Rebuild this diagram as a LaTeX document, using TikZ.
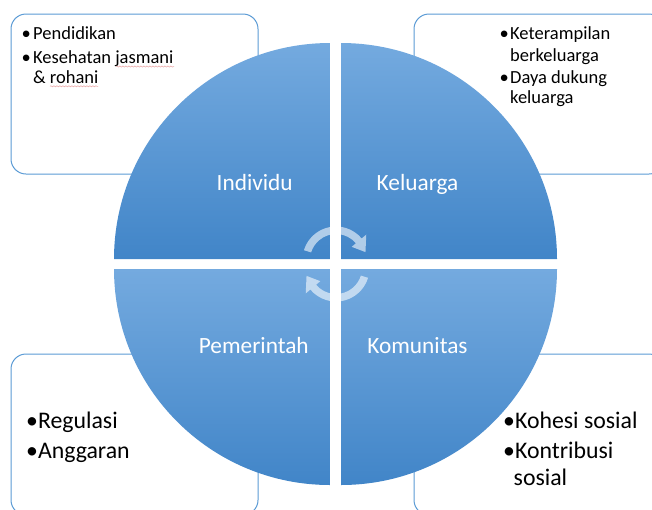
\documentclass[tikz,border=0pt]{standalone}
\usepackage{fontspec}
\setmainfont{Carlito}
\usetikzlibrary{calc,decorations.pathmorphing}
\definecolor{boxblue}{HTML}{5B9BD5}
\definecolor{qtop}{HTML}{74AADF}
\definecolor{qbot}{HTML}{4185C8}
\definecolor{squig}{HTML}{E9A3A3}
\begin{document}
\begin{tikzpicture}[x=1pt,y=1pt,
  infobox/.style={draw=boxblue, line width=1pt, rounded corners=15pt, fill=white, inner sep=0pt},
  quad/.style={top color=qtop, bottom color=qbot},
  qlabel/.style={text=white, font=\fontsize{23.3}{27}\selectfont, anchor=base, inner sep=0pt},
  small/.style={font=\fontsize{18.5}{22}\selectfont, anchor=base west, inner sep=0pt},
  big/.style={font=\fontsize{23.8}{28}\selectfont, anchor=base west, inner sep=0pt},
  cyc/.style={fill=white, fill opacity=0.58, draw=none},
  spell/.style={draw=squig, line width=0.5pt, decorate, decoration={snake, amplitude=0.6pt, segment length=3pt}}]
\useasboundingbox (0,0) rectangle (652,-509);
\clip (0,0) rectangle (652,-509);
% boxes
\node[infobox, minimum width=247, minimum height=160] (boxTL) at (134.5,-94) {};
\node[infobox, minimum width=250, minimum height=160] (boxTR) at (539,-94) {};
\node[infobox, minimum width=247, minimum height=161] (boxBL) at (134.5,-434.5) {};
\node[infobox, minimum width=250, minimum height=161] (boxBR) at (539,-434.5) {};
% box texts
\node[small] (tl1b) at (21.5,-39.3) {•};
\node[small] (tl1) at (33,-39.3) {Pendidikan};
\node[small] (tl2b) at (21.5,-63.3) {•};
\node[small] (tl2) at (33,-63.3) {Kesehatan jasmani};
\node[small] (tl3) at (33,-83.3) {\& rohani};
\draw[spell] (116,-66.5) -- (174,-66.5);
\draw[spell] (50,-86.3) -- (98,-86.3);
\node[small] (tr1b) at (499.5,-39.3) {•};
\node[small] (tr1) at (510,-39.3) {Keterampilan};
\node[small] (tr2) at (510,-61) {berkeluarga};
\node[small] (tr3b) at (499.5,-83.3) {•};
\node[small] (tr3) at (510,-83.3) {Daya dukung};
\node[small] (tr4) at (510,-103.5) {keluarga};
\node[big] (bl1) at (26,-428.3) {•Regulasi};
\node[big] (bl2) at (26,-458.3) {•Anggaran};
\node[big] (br1) at (503,-428.3) {•Kohesi sosial};
\node[big] (br2) at (503,-458.3) {•Kontribusi};
\node[big] (br3) at (513.5,-485.3) {sosial};
% quadrants
\shade[quad] (330,-259) -- (114,-259) arc[start angle=180, end angle=90, radius=216] -- cycle;
\shade[quad] (341,-259) -- (341,-43) arc[start angle=90, end angle=0, radius=216] -- cycle;
\shade[quad] (330,-269) -- (114,-269) arc[start angle=180, end angle=270, radius=216] -- cycle;
\shade[quad] (341,-269) -- (557,-269) arc[start angle=0, end angle=-90, radius=216] -- cycle;
\node[qlabel] (ind) at (254.7,-190) {Individu};
\node[qlabel] (kel) at (417.5,-190) {Keluarga};
\node[qlabel] (pem) at (253.8,-353.3) {Pemerintah};
\node[qlabel] (kom) at (417.5,-353.3) {Komunitas};
% cycle arrows
\coordinate (c1) at (336,-260);
\coordinate (c2) at (336,-268);
\fill[cyc] ($(c1)+(163:33.5)$) arc[start angle=163, end angle=40, radius=33.5]
  -- ($(c1)+(40:39.5)$) -- ($(c1)+(15:30.5)$) -- ($(c1)+(40:20.5)$) -- ($(c1)+(40:26)$)
  arc[start angle=40, end angle=163, radius=26] -- cycle;
\fill[cyc] ($(c2)+(343:33.5)$) arc[start angle=343, end angle=220, radius=33.5]
  -- ($(c2)+(220:39.5)$) -- ($(c2)+(195:30.5)$) -- ($(c2)+(220:20.5)$) -- ($(c2)+(220:26)$)
  arc[start angle=220, end angle=343, radius=26] -- cycle;
\end{tikzpicture}
\end{document}
